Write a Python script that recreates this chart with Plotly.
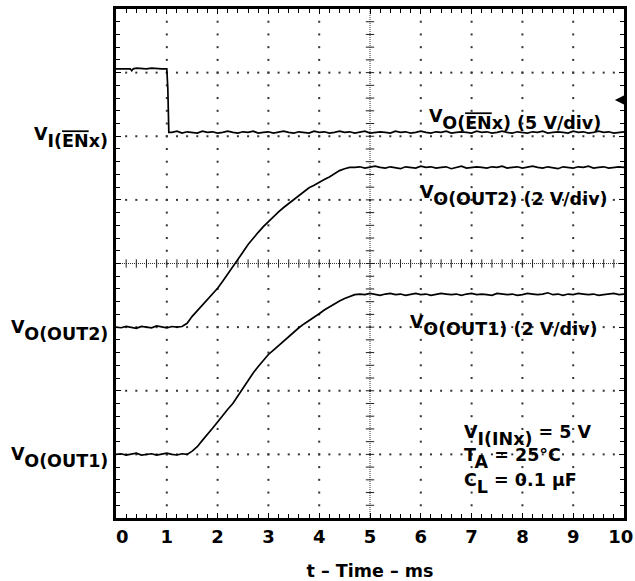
import plotly.graph_objects as go

# ---------------- data (screen divisions, 0..8 bottom->top; time in ms) ----------------
en_t = [0.0, 0.1, 0.2, 0.28, 0.31, 0.34, 0.4, 0.5, 0.6, 0.7, 0.8, 0.9, 1.0, 1.02, 1.04] + \
       [round(1.1 + 0.1 * i, 1) for i in range(90)]
en_v = [7.06, 7.06, 7.07, 7.06, 7.03, 7.06, 7.07, 7.06, 7.06, 7.07, 7.06, 7.06, 7.06, 6.75, 6.06,
        6.06, 6.08, 6.05, 6.07, 6.06, 6.05, 6.08, 6.06, 6.07, 6.05,
        6.06, 6.08, 6.06, 6.05, 6.07, 6.06, 6.08, 6.05, 6.06, 6.07,
        6.05, 6.06, 6.08, 6.06, 6.05, 6.07, 6.06, 6.05, 6.08, 6.06,
        6.07, 6.05, 6.06, 6.08, 6.06, 6.07, 6.05, 6.06, 6.08, 6.05,
        6.06, 6.07, 6.06, 6.05, 6.08, 6.06, 6.07, 6.05, 6.06, 6.08,
        6.06, 6.05, 6.07, 6.06, 6.08, 6.05, 6.06, 6.07, 6.06, 6.05,
        6.08, 6.06, 6.07, 6.05, 6.06, 6.08, 6.06, 6.05, 6.07, 6.06,
        6.05, 6.07, 6.06, 6.08, 6.05, 6.06, 6.07, 6.06, 6.05, 6.08,
        6.06, 6.07, 6.05, 6.06, 6.08, 6.06, 6.07, 6.05, 6.06, 6.07]

out_t = [round(0.1 * i, 1) for i in range(101)]
out2_v = [3.00, 2.99, 3.01, 3.00, 2.98, 3.01, 3.00, 2.99, 3.02, 3.00, 2.99, 3.01, 3.00, 3.01,
          3.06, 3.17, 3.26, 3.35, 3.44, 3.52, 3.61, 3.72, 3.83, 3.96, 4.07, 4.18, 4.30, 4.40,
          4.49, 4.58, 4.66, 4.73, 4.81, 4.88, 4.94, 5.01, 5.07, 5.13, 5.19, 5.23, 5.28, 5.32,
          5.36, 5.41, 5.46, 5.49, 5.51,
          5.51, 5.52, 5.50, 5.51, 5.53, 5.51, 5.50, 5.52, 5.51, 5.49,
          5.52, 5.51, 5.50, 5.53, 5.51, 5.52, 5.50, 5.51, 5.52, 5.49,
          5.51, 5.53, 5.50, 5.51, 5.52, 5.51, 5.50, 5.52, 5.51, 5.53,
          5.50, 5.51, 5.52, 5.50, 5.51, 5.53, 5.51, 5.50, 5.52, 5.51,
          5.49, 5.52, 5.51, 5.50, 5.52, 5.51, 5.53, 5.50, 5.51, 5.52,
          5.50, 5.51, 5.52, 5.51]
out1_v = [1.00, 1.01, 0.99, 1.00, 1.02, 0.99, 1.00, 1.01, 0.99, 1.00, 1.02, 1.00, 0.99, 1.01, 1.00,
          1.05, 1.12, 1.22, 1.31, 1.41, 1.51, 1.62, 1.71, 1.80, 1.92, 2.05, 2.17, 2.28, 2.38,
          2.48, 2.57, 2.64, 2.71, 2.79, 2.86, 2.92, 2.99, 3.05, 3.10, 3.15, 3.21, 3.27, 3.32,
          3.36, 3.41, 3.45, 3.48, 3.51,
          3.52, 3.51, 3.53, 3.52, 3.50, 3.52, 3.53, 3.51, 3.52, 3.50,
          3.52, 3.53, 3.51, 3.52, 3.50, 3.51, 3.53, 3.52, 3.51, 3.52,
          3.50, 3.52, 3.53, 3.51, 3.52, 3.51, 3.50, 3.53, 3.52, 3.51,
          3.52, 3.50, 3.51, 3.53, 3.52, 3.51, 3.52, 3.54, 3.51, 3.52,
          3.50, 3.52, 3.51, 3.53, 3.52, 3.51, 3.52, 3.50, 3.51, 3.52,
          3.53, 3.51, 3.52]

x_ticks = list(range(11))
x_ticktext = ["\u00a0\u00a00", "1", "2", "3", "4", "5", "6", "7", "8", "9", "10\u00a0"]
x_title = "t – Time – ms"

FONT = "DejaVu Sans"
FS = 17.5


def big(s):
    return "<span style='font-size:%spx'>%s</span>" % (FS, s)


OVL = "<span style='text-decoration:overline'>%s</span>"

fig = go.Figure()

# ---------------- graticule ----------------
grid_x, grid_y = [], []
for xv in [1, 2, 3, 4, 6, 7, 8, 9]:
    for k in range(1, 40):
        grid_x.append(xv)
        grid_y.append(round(k * 0.2, 2))
for yv in [1, 2, 3, 5, 6, 7]:
    for k in range(1, 50):
        grid_x.append(round(k * 0.2, 2))
        grid_y.append(yv)
fig.add_trace(go.Scatter(x=grid_x, y=grid_y, mode="markers", hoverinfo="skip",
                         marker=dict(symbol="square", size=2, color="#333", line=dict(width=0))))

# center lines
fig.add_trace(go.Scatter(x=[5, 5], y=[0, 8], mode="lines", hoverinfo="skip",
                         line=dict(color="#333", width=1, dash="1px,1px")))
fig.add_trace(go.Scatter(x=[0, 10], y=[4, 4], mode="lines", hoverinfo="skip",
                         line=dict(color="#333", width=1, dash="1px,1px")))
cy = [round(k * 0.2, 2) for k in range(1, 40)]
cx = [round(k * 0.2, 2) for k in range(1, 50)]
fig.add_trace(go.Scatter(x=[5] * len(cy), y=cy, mode="markers", hoverinfo="skip",
                         marker=dict(symbol="line-ew", size=6, line=dict(width=1, color="#222"))))
fig.add_trace(go.Scatter(x=cx, y=[4] * len(cx), mode="markers", hoverinfo="skip",
                         marker=dict(symbol="line-ns", size=6, line=dict(width=1, color="#222"))))

# ---------------- traces ----------------
for tx, ty in [(en_t, en_v), (out_t, out2_v), (out_t, out1_v)]:
    fig.add_trace(go.Scatter(x=tx, y=ty, mode="lines",
                             line=dict(color="black", width=1.7)))

# ---------------- annotations ----------------
afont = dict(family=FONT, size=FS, color="black", weight="bold")
ann = []
# left labels
left = [
    ("<sup>" + big("V") + "</sup>I(" + OVL % "EN" + "x)", 5.98),
    ("<sup>" + big("V") + "</sup>O(OUT2)", 2.95),
    ("<sup>" + big("V") + "</sup>O(OUT1)", 0.95),
]
for txt, yy in left:
    ann.append(dict(text=txt, xref="paper", x=-0.012, yref="y", y=yy, xanchor="right",
                    yanchor="middle", showarrow=False, font=afont))
# inside labels
inside = [
    ("<sup>" + big("V") + "</sup>O(" + OVL % "EN" + "x) (5 V/div)", 6.12, 6.27),
    ("<sup>" + big("V") + "</sup>O(OUT2) (2 V/div)", 5.94, 5.07),
    ("<sup>" + big("V") + "</sup>O(OUT1) (2 V/div)", 5.75, 3.03),
    ("<sup>" + big("V") + "</sup>I(INx)<sup>" + big(" = 5 V") + "</sup>", 6.81, 1.30),
    ("<sup>" + big("T") + "</sup>A<sup>" + big(" = 25°C") + "</sup>", 6.81, 0.93),
    ("<sup>" + big("C") + "</sup>L<sup>" + big(" = 0.1 µF") + "</sup>", 6.81, 0.55),
]
for txt, xx, yy in inside:
    ann.append(dict(text=txt, xref="x", x=xx, yref="y", y=yy, xanchor="left",
                    yanchor="middle", showarrow=False, font=afont))
# trigger marker
ann.append(dict(text="", xref="x", x=9.82, yref="y", y=6.57, ax=10, ay=0,
                showarrow=True, arrowhead=2, arrowsize=1.2, arrowwidth=2, arrowcolor="black"))

fig.update_layout(
    width=635, height=581,
    margin=dict(l=116, r=11, t=9, b=63, autoexpand=False),
    paper_bgcolor="white", plot_bgcolor="white",
    showlegend=False,
    annotations=ann,
)

axis_common = dict(
    ticks="inside", ticklen=5, tickwidth=1, tickcolor="black",
    minor=dict(dtick=0.2, ticks="inside", ticklen=4, tickwidth=1, tickcolor="black"),
    showline=True, linewidth=3, linecolor="black", mirror="allticks",
    showgrid=False, zeroline=False, automargin=False,
)
fig.update_xaxes(range=[0, 10], tickmode="array", tickvals=x_ticks, ticktext=x_ticktext,
                 ticklabeloverflow="allow",
                 tickfont=dict(family=FONT, size=18, color="black", weight="bold"),
                 title=dict(text=x_title, font=dict(family=FONT, size=17.5, color="black", weight="bold"),
                            standoff=20),
                 **axis_common)
fig.update_yaxes(range=[0, 8], dtick=1, tick0=0, showticklabels=False, **axis_common)

fig.write_html("out.html", config={"displayModeBar": False},
               post_script="document.body.style.margin='0';document.body.style.overflow='hidden';")
